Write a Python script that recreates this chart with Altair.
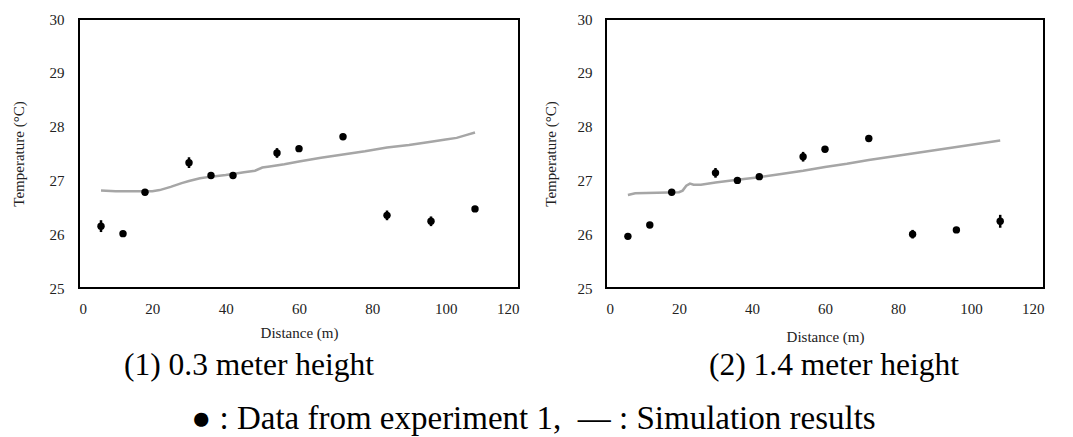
import altair as alt
import pandas as pd

# ---- data ----
DIST = [6, 12, 18, 30, 36, 42, 54, 60, 72, 84, 96, 108]

EXP_03 = [26.15, 26.01, 26.78, 27.33, 27.09, 27.09, 27.51, 27.59, 27.81, 26.35, 26.24, 26.47]
ERR_03 = [0.11, 0.0, 0.0, 0.10, 0.0, 0.0, 0.09, 0.0, 0.0, 0.09, 0.09, 0.0]

EXP_14 = [25.96, 26.17, 26.78, 27.14, 27.00, 27.07, 27.44, 27.58, 27.78, 26.00, 26.08, 26.24]
ERR_14 = [0.0, 0.0, 0.0, 0.09, 0.0, 0.0, 0.09, 0.0, 0.0, 0.08, 0.0, 0.12]

SIM_X_03 = [6, 10, 15, 20, 22, 25, 28, 30, 33, 36, 40, 42, 45, 48, 50, 52, 56, 60,
            66, 72, 78, 84, 90, 96, 100, 103, 106, 108]
SIM_T_03 = [26.81, 26.80, 26.80, 26.80, 26.82, 26.88, 26.95, 26.99, 27.04, 27.07, 27.10,
            27.12, 27.15, 27.18, 27.24, 27.26, 27.30, 27.35, 27.42, 27.48, 27.54, 27.61,
            27.66, 27.72, 27.76, 27.79, 27.85, 27.89]

SIM_X_14 = [6, 8, 20, 21, 22, 23, 24, 26, 30, 36, 42, 48, 54, 60, 66, 72, 78, 84, 90,
            96, 102, 108]
SIM_T_14 = [26.73, 26.76, 26.78, 26.81, 26.90, 26.94, 26.92, 26.92, 26.96, 27.01, 27.06,
            27.12, 27.18, 27.25, 27.31, 27.38, 27.44, 27.50, 27.56, 27.62, 27.68, 27.74]

X_TICKS = [0, 20, 40, 60, 80, 100, 120]
Y_TICKS = [25, 26, 27, 28, 29, 30]

CAPTIONS = ["(1) 0.3 meter height", "(2) 1.4 meter height"]
LEGEND_TEXT = "\u25cf : Data from experiment 1,\u00a0\u00a0\u2014 : Simulation results"

FONT = "Liberation Serif"
AX = dict(labelFont=FONT, titleFont=FONT, labelFontSize=15, titleFontSize=15,
          labelColor="#222", titleColor="#222", titleFontWeight="normal",
          domain=False, ticks=False, grid=False)


def panel(exp, err, sx, st, caption, width, ylab_pad, ytitle_pad, xtitle_pad,
          cap_dx, cap_off):
    pts = pd.DataFrame({"d": DIST, "t": exp, "e": err})
    sim = pd.DataFrame({"d": sx, "t": st})
    xs = alt.Scale(domain=[0, 120], nice=False, zero=False)
    ys = alt.Scale(domain=[25, 30], nice=False, zero=False)
    xax = alt.Axis(values=X_TICKS, title="Distance (m)", labelPadding=13,
                   titlePadding=xtitle_pad, **AX)
    yax = alt.Axis(values=Y_TICKS, title="Temperature (\u00b0C)", labelPadding=ylab_pad,
                   titlePadding=ytitle_pad, **AX)
    X = alt.X("d:Q", scale=xs, axis=xax)
    line = alt.Chart(sim).mark_line(color="#a6a6a6", strokeWidth=2.5).encode(
        x=X, y=alt.Y("t:Q", scale=ys, axis=yax))
    bars = alt.Chart(pts).transform_filter("datum.e > 0").transform_calculate(
        lo="datum.t - datum.e", hi="datum.t + datum.e"
    ).mark_rule(color="black", strokeWidth=2.5).encode(
        x=X, y=alt.Y("lo:Q", scale=ys, axis=yax), y2="hi:Q")
    dots = alt.Chart(pts).mark_circle(color="black", opacity=1, size=55).encode(
        x=X, y=alt.Y("t:Q", scale=ys, axis=yax))
    return alt.layer(line, bars, dots).properties(
        width=width, height=269,
        title=alt.TitleParams(caption, orient="bottom", anchor="middle", frame="group",
                              dx=cap_dx, fontSize=31.5, font=FONT, fontWeight="normal",
                              color="black", offset=cap_off))


left = panel(EXP_03, ERR_03, SIM_X_03, SIM_T_03, CAPTIONS[0], 440, 15, 23, 9, -50, 10)
right = panel(EXP_14, ERR_14, SIM_X_14, SIM_T_14, CAPTIONS[1], 438, 14, 19, 13, 9, 6)

chart = alt.hconcat(left, right, spacing=22).properties(
    padding={"left": 10, "top": 11, "right": 5, "bottom": 0},
    title=alt.TitleParams(LEGEND_TEXT, orient="bottom", anchor="middle", fontSize=33,
                          font=FONT, fontWeight="normal", color="black", offset=20, dx=6),
).configure_view(stroke="black", strokeWidth=2)

chart.save("out.html", embed_options={"renderer": "svg", "actions": False})
